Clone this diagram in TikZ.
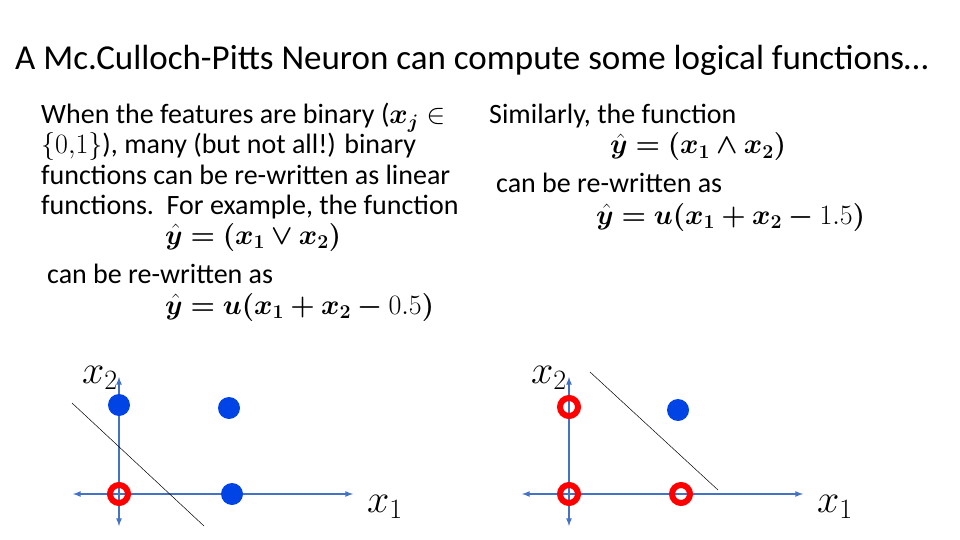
\RequirePackage{fix-cm}
\documentclass[tikz,border=0pt]{standalone}
\usepackage{amsmath,amssymb,bm}
\usepackage{fontspec}
\setmainfont{Carlito}
\begin{document}
\begin{tikzpicture}[x=1pt,y=-1pt,
 txt/.style={anchor=base west,inner sep=0pt,font=\fontsize{28}{30}\selectfont},
 axl/.style={anchor=base west,inner sep=0pt,font=\fontsize{40}{42}\selectfont},
 ax/.style={draw={rgb,255:red,68;green,114;blue,196},line width=1.6pt,-latex},
 blue dot/.style={circle,fill={rgb,255:red,0;green,68;blue,230},minimum size=22pt,inner sep=0pt},
 red ring/.style={circle,draw=red,line width=6pt,minimum size=18pt,inner sep=0pt},
 sep/.style={draw=black,line width=0.5pt}]
\useasboundingbox (0,0) rectangle (960,540);
\node[txt,font=\fontsize{35}{38}\selectfont] (title) at (15,70) {A Mc.Culloch-Pitts Neuron can compute some logical functions…};
\node[txt] (l1) at (41,124) {When the features are binary ($\bm{x_j}\in$};
\node[txt] (l2) at (41,154) {$\{0{,}1\}$), many (but not all!) binary};
\node[txt] (l3) at (41,184) {functions can be re-written as linear};
\node[txt] (l4) at (41,214) {functions.\ \ For example, the function};
\node[txt] (l5) at (165,244) {$\bm{\hat y = (x_1 \vee x_2)}$};
\node[txt] (l6) at (47,283) {can be re-written as};
\node[txt] (l7) at (165,314) {$\bm{\hat y = u(x_1 + x_2 -} 0.5\bm{)}$};
\node[txt] (r1) at (489,124) {Similarly, the function};
\node[txt] (r2) at (610,154) {$\bm{\hat y = (x_1 \wedge x_2)}$};
\node[txt] (r3) at (496,193) {can be re-written as};
\node[txt] (r4) at (596,224) {$\bm{\hat y = u(x_1 + x_2 -} 1.5\bm{)}$};
% left plot
\coordinate (o1) at (119,494);
\coordinate (xl1) at (73,494); \coordinate (xr1) at (353,494);
\coordinate (yt1) at (119,377); \coordinate (yb1) at (119,526);
\draw[ax] (o1) -- (xr1); \draw[ax] (o1) -- (xl1);
\draw[ax] (o1) -- (yt1); \draw[ax] (o1) -- (yb1);
\node[axl] (lx2) at (82,383) {$x_2$};
\node[axl] (lx1) at (367,512) {$x_1$};
\node[blue dot] (a1) at (119,405) {};
\node[blue dot] (a2) at (229,408) {};
\node[blue dot] (a3) at (232,494) {};
\node[red ring] (a4) at (119,494) {};
\coordinate (s1a) at (72,403); \coordinate (s1b) at (204,526);
\draw[sep] (s1a) -- (s1b);
% right plot
\coordinate (o2) at (569,494);
\coordinate (xl2) at (522,494); \coordinate (xr2) at (803,494);
\coordinate (yt2) at (569,377); \coordinate (yb2) at (569,526);
\draw[ax] (o2) -- (xr2); \draw[ax] (o2) -- (xl2);
\draw[ax] (o2) -- (yt2); \draw[ax] (o2) -- (yb2);
\node[axl] (rx2) at (531,383) {$x_2$};
\node[axl] (rx1) at (817,512) {$x_1$};
\node[red ring] (b1) at (569,407) {};
\node[blue dot] (b2) at (678,410) {};
\node[red ring] (b3) at (569,494) {};
\node[red ring] (b4) at (681,494) {};
\coordinate (s2a) at (590,372); \coordinate (s2b) at (718,490);
\draw[sep] (s2a) -- (s2b);
\end{tikzpicture}
\end{document}
